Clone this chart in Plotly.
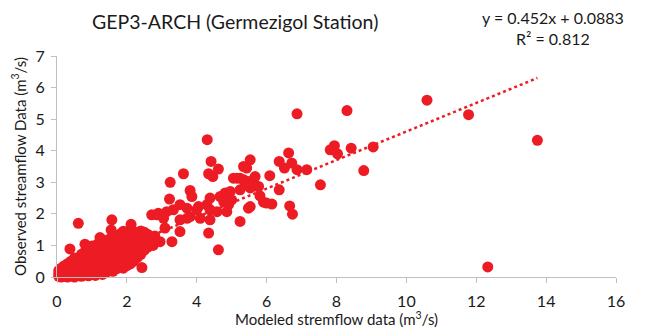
import plotly.graph_objects as go

# Modeled vs observed streamflow (m3/s), Germezigol station
cluster_x = (
    [0.05] * 3 + [0.12] * 4 + [0.2] * 4 + [0.3] * 5 + [0.4] * 5 + [0.5] * 6 + [0.6] * 5
    + [0.7] * 6 + [0.8] * 6 + [0.9] * 7 + [1.0] * 7 + [1.1] * 7 + [1.2] * 7 + [1.3] * 8
    + [1.4] * 7 + [1.5] * 7 + [1.6] * 8 + [1.7] * 7 + [1.8] * 7 + [1.9] * 8 + [2.0] * 7
    + [2.1] * 7 + [2.2] * 6 + [2.3] * 5 + [2.4] * 5 + [2.5] * 4 + [2.6] * 3
)
cluster_y = [
    0.02, 0.1, 0.2,
    0.0, 0.08, 0.18, 0.28,
    0.02, 0.12, 0.24, 0.35,
    0.0, 0.1, 0.2, 0.32, 0.42,
    0.03, 0.15, 0.28, 0.4, 0.5,
    0.0, 0.12, 0.25, 0.38, 0.52, 0.6,
    0.05, 0.2, 0.33, 0.46, 0.58,
    0.02, 0.15, 0.3, 0.45, 0.6, 0.72,
    0.08, 0.22, 0.38, 0.52, 0.68, 0.8,
    0.04, 0.18, 0.34, 0.5, 0.64, 0.78, 0.9,
    0.1, 0.26, 0.42, 0.58, 0.72, 0.88, 0.98,
    0.05, 0.2, 0.36, 0.52, 0.68, 0.84, 1.0,
    0.12, 0.3, 0.46, 0.62, 0.78, 0.94, 1.08,
    0.08, 0.24, 0.4, 0.56, 0.72, 0.88, 1.04, 1.18,
    0.15, 0.32, 0.5, 0.66, 0.82, 0.98, 1.12,
    0.2, 0.38, 0.55, 0.72, 0.9, 1.06, 1.2,
    0.18, 0.35, 0.52, 0.7, 0.86, 1.02, 1.18, 1.3,
    0.26, 0.44, 0.62, 0.8, 0.96, 1.12, 1.28,
    0.3, 0.5, 0.68, 0.86, 1.04, 1.2, 1.36,
    0.28, 0.46, 0.64, 0.82, 1.0, 1.16, 1.32, 1.45,
    0.36, 0.55, 0.74, 0.92, 1.1, 1.28, 1.42,
    0.42, 0.6, 0.8, 0.98, 1.16, 1.34, 1.5,
    0.5, 0.7, 0.9, 1.08, 1.26, 1.44,
    0.62, 0.82, 1.0, 1.2, 1.38,
    0.72, 0.92, 1.12, 1.3, 1.46,
    0.85, 1.05, 1.25, 1.42,
    0.95, 1.15, 1.35,
]

spread_x = [
    0.61, 1.57, 1.55, 0.37, 0.8, 1.23, 2.12, 2.43,
    2.71, 2.86, 2.9, 2.8, 2.75, 2.95, 3.09, 3.29, 3.05, 3.14, 3.33, 3.52, 3.52, 3.52,
    3.72, 3.72, 3.81, 3.81, 3.86, 3.22, 3.24, 3.62, 4.0, 4.05, 4.1, 4.38, 4.38, 4.38,
    4.29, 4.34, 4.62, 4.58, 4.67, 4.77, 4.86, 4.81, 4.91, 4.96, 5.0, 5.05, 5.15, 5.34,
    5.43, 5.24, 5.24, 5.48, 5.53, 5.34, 5.43, 5.53, 5.24, 5.39, 5.53, 5.53,
    4.3, 4.41, 4.62, 4.34, 4.46,
    5.67, 5.72, 5.77, 5.81, 5.91, 6.0, 6.09, 6.15, 6.36, 6.36, 6.51, 6.63, 6.66, 6.72,
    6.74, 6.87, 6.87, 7.15, 7.54, 7.82, 7.94, 8.03, 8.3, 8.42, 8.78, 9.05,
    10.59, 11.78, 12.33, 13.75,
]
spread_y = [
    1.7, 1.81, 1.49, 0.89, 1.04, 1.25, 1.67, 0.3,
    1.97, 1.97, 2.02, 1.3, 1.0, 1.12, 1.55, 1.12, 1.86, 2.07, 2.13, 2.29, 1.81, 1.44,
    2.18, 1.86, 1.91, 2.74, 2.55, 2.47, 3.0, 3.27, 2.13, 2.23, 1.86, 1.81, 2.13, 2.5,
    2.29, 1.39, 0.86, 2.07, 2.55, 2.39, 2.07, 2.66, 2.29, 2.71, 2.44, 3.13, 3.13, 3.08,
    2.97, 2.76, 1.76, 2.18, 2.23, 3.5, 3.45, 3.71, 3.13, 2.92, 2.82, 3.03,
    4.35, 3.66, 3.42, 3.27, 3.18,
    3.18, 2.87, 2.87, 2.57, 2.37, 2.34, 3.21, 2.31, 3.66, 2.76, 3.45, 3.93, 2.25, 3.61,
    1.99, 3.4, 5.17, 3.4, 2.92, 4.03, 4.16, 3.9, 5.27, 4.08, 3.37, 4.12,
    5.6, 5.14, 0.32, 4.33,
]

modeled = cluster_x + spread_x
observed = cluster_y + spread_y

# Linear trend: y = slope * x + intercept
slope = 0.452
intercept = 0.0883
r_squared = 0.812

x_ticks = [0, 2, 4, 6, 8, 10, 12, 14, 16]
y_ticks = [0, 1, 2, 3, 4, 5, 6, 7]

red = "#ED1C24"
axis_grey = "#BFBFBF"
text_col = "#1A1A1A"
font_family = "Lato, 'Open Sans', sans-serif"

trend_x = [min(modeled), max(modeled)]
trend_y = [slope * v + intercept for v in trend_x]

fig = go.Figure()
fig.add_trace(go.Scatter(
    x=modeled, y=observed, mode="markers",
    marker=dict(size=11, color=red, line=dict(width=0)),
    cliponaxis=False, showlegend=False,
))
fig.add_trace(go.Scatter(
    x=trend_x, y=trend_y, mode="lines",
    line=dict(color=red, width=2.5, dash="3px,3px"),
    cliponaxis=False, showlegend=False,
))

fig.update_layout(
    width=648, height=330,
    margin=dict(l=57, r=32, t=56, b=53),
    paper_bgcolor="white", plot_bgcolor="white",
    font=dict(family=font_family, color=text_col, size=15),
    title=dict(
        text="GEP3-ARCH (Germezigol Station)",
        x=0.363, xanchor="center", y=0.933, yanchor="middle",
        font=dict(size=19.5, family=font_family, color=text_col),
    ),
    xaxis=dict(
        range=[0, 16], tickvals=x_ticks, ticktext=[str(v) for v in x_ticks],
        showgrid=False, zeroline=False, showline=True, linecolor=axis_grey, linewidth=1,
        ticks="outside", ticklen=5, tickcolor=axis_grey, tickfont=dict(size=16),
        ticklabelstandoff=5, automargin=False,
    ),
    yaxis=dict(
        range=[0, 7], tickvals=y_ticks, ticktext=[str(v) for v in y_ticks],
        showgrid=False, zeroline=False, showline=True, linecolor=axis_grey, linewidth=1,
        ticks="outside", ticklen=5, tickcolor=axis_grey, tickfont=dict(size=16),
        ticklabelstandoff=3, automargin=False,
        title=dict(text="Observed streamflow Data (m<sup>3</sup>/s)", font=dict(size=15), standoff=5),
    ),
    annotations=[
        dict(text="Modeled stremflow data (m<sup>3</sup>/s)", xref="paper", yref="paper",
             x=0.5, y=-0.186, xanchor="center", yanchor="middle", showarrow=False,
             font=dict(size=15, family=font_family, color=text_col)),
        dict(text=f"y = {slope}x + {intercept}", xref="paper", yref="paper",
             x=0.887, y=1.172, xanchor="center", yanchor="middle", showarrow=False,
             font=dict(size=16, family=font_family, color=text_col)),
        dict(text=f"R² = {r_squared}", xref="paper", yref="paper",
             x=0.887, y=1.081, xanchor="center", yanchor="middle", showarrow=False,
             font=dict(size=16, family=font_family, color=text_col)),
    ],
)

fig.write_html("out.html")
